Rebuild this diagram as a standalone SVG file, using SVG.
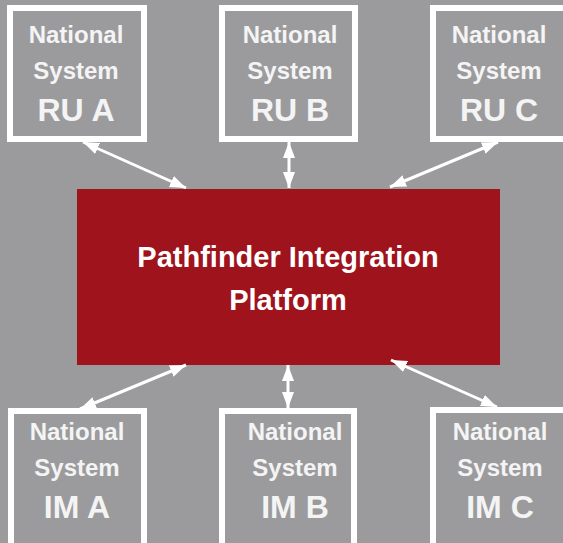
<svg xmlns="http://www.w3.org/2000/svg" width="563" height="543" viewBox="0 0 563 543">
<defs>
<style>
.box{fill:#9b9b9d;stroke:#ffffff;stroke-width:6}
.t{font-family:"Liberation Sans",Arial,sans-serif;font-weight:bold;fill:#f4f4f4;text-anchor:middle}
.s{font-size:24px}
.b{font-size:32px}
.m{font-size:29px;fill:#ffffff}
.c{stroke:#ffffff;stroke-width:3;fill:none;marker-start:url(#ah);marker-end:url(#ah)}
</style>
<marker id="ah" markerUnits="userSpaceOnUse" viewBox="0 0 16 12" markerWidth="16" markerHeight="12" refX="16" refY="6" orient="auto-start-reverse">
<path d="M0,0 L16,6 L0,12 Z" fill="#ffffff"/>
</marker>
</defs>
<rect x="0" y="0" width="563" height="543" fill="#9b9b9d"/>
<g id="platform">
<rect x="77" y="189" width="423" height="176" fill="#9e131c"/>
<text class="t m" x="288" y="267">Pathfinder Integration</text>
<text class="t m" x="288" y="310">Platform</text>
</g>
<g id="ru-a">
<rect class="box" x="10" y="8" width="134" height="131"/>
<text class="t s" x="76" y="43">National</text>
<text class="t s" x="76" y="79">System</text>
<text class="t b" x="76" y="121">RU A</text>
</g>
<g id="ru-b">
<rect class="box" x="222" y="8" width="133" height="131"/>
<text class="t s" x="290" y="43">National</text>
<text class="t s" x="290" y="79">System</text>
<text class="t b" x="290" y="121">RU B</text>
</g>
<g id="ru-c">
<rect class="box" x="433" y="8" width="140" height="131"/>
<text class="t s" x="499" y="43">National</text>
<text class="t s" x="499" y="79">System</text>
<text class="t b" x="499" y="121">RU C</text>
</g>
<g id="im-a">
<rect class="box" x="11" y="411" width="133" height="140"/>
<text class="t s" x="77" y="440">National</text>
<text class="t s" x="77" y="476">System</text>
<text class="t b" x="77" y="518">IM A</text>
</g>
<g id="im-b">
<rect class="box" x="222" y="411" width="132" height="140"/>
<text class="t s" x="295" y="440">National</text>
<text class="t s" x="295" y="476">System</text>
<text class="t b" x="295" y="518">IM B</text>
</g>
<g id="im-c">
<rect class="box" x="433" y="410" width="140" height="140"/>
<text class="t s" x="500" y="440">National</text>
<text class="t s" x="500" y="476">System</text>
<text class="t b" x="500" y="518">IM C</text>
</g>
<g id="connectors">
<line class="c" x1="83" y1="142" x2="186" y2="188"/>
<line class="c" x1="289" y1="142" x2="289" y2="188"/>
<line class="c" x1="498" y1="142" x2="390" y2="187"/>
<line class="c" x1="80" y1="409" x2="186" y2="365"/>
<line class="c" x1="288" y1="365" x2="288" y2="408"/>
<line class="c" x1="391" y1="360" x2="497" y2="407"/>
</g>
</svg>
